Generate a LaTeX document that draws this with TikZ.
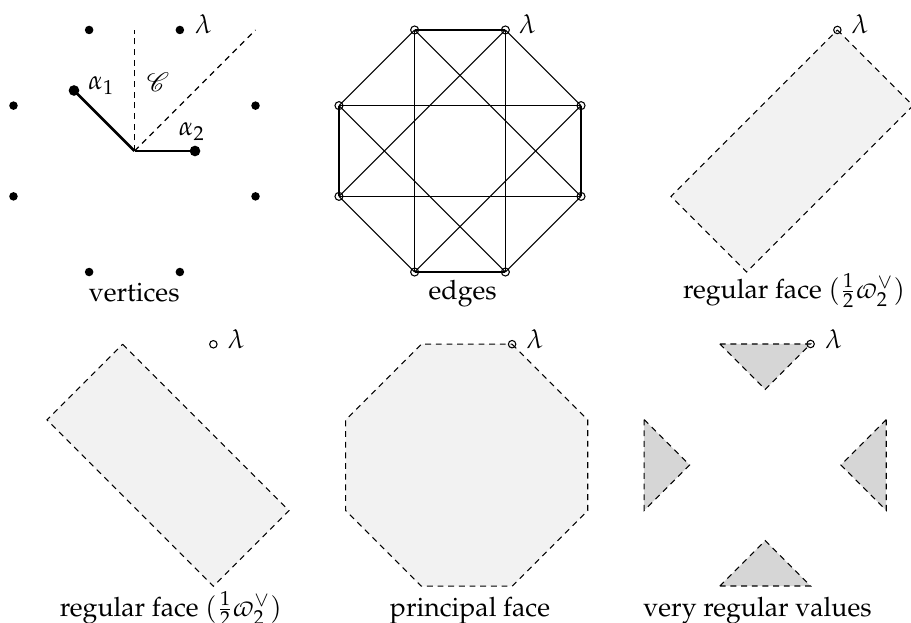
\documentclass[tikz,border=0pt]{standalone}
\usepackage[T1]{fontenc}
\usepackage{mathpazo}
\usepackage{mathrsfs}
\tikzset{
  dot/.style={circle,fill=black,inner sep=0pt,minimum size=3.2pt},
  bigdot/.style={circle,fill=black,inner sep=0pt,minimum size=4pt},
  ring/.style={circle,draw=black,line width=0.4pt,inner sep=0pt,minimum size=3pt},
  sring/.style={circle,draw=black,line width=0.4pt,inner sep=0pt,minimum size=2.8pt},
  dsh/.style={dash pattern=on 2.2pt off 1.8pt,line width=0.4pt},
  face/.style={dsh,fill=black!5},
  vface/.style={dsh,fill=black!16},
  edgeline/.style={line width=0.4pt},
  rootline/.style={line width=1pt},
  lab/.style={anchor=base,inner sep=0pt},
  mlab/.style={inner sep=0pt},
  panel/.style={x=22.69pt,y=22.69pt}
}
\begin{document}
\begin{tikzpicture}[x=0.375pt,y=-0.375pt]
\useasboundingbox (0,0) rectangle (911,623);

% ---------- panel 1: vertices ----------
\begin{scope}[shift={(134.5,151)},panel]
  \coordinate (o1) at (0,0);
  \coordinate (wallA) at (0,2);
  \coordinate (wallB) at (2,2);
  \draw[dsh] (o1) -- (wallA);
  \draw[dsh] (o1) -- (wallB);
  \node[dot] (p1) at (0.75,2) {};
  \node[dot] (p2) at (2,0.75) {};
  \node[dot] (p3) at (2,-0.75) {};
  \node[dot] (p4) at (0.75,-2) {};
  \node[dot] (p5) at (-0.75,-2) {};
  \node[dot] (p6) at (-2,-0.75) {};
  \node[dot] (p7) at (-2,0.75) {};
  \node[dot] (p8) at (-0.75,2) {};
  \node[bigdot] (al1) at (-1,1) {};
  \node[bigdot] (al2) at (1,0) {};
  \draw[rootline] (o1) -- (al1.center);
  \draw[rootline] (o1) -- (al2.center);
\end{scope}
\node[mlab] (lam1) at (203.5,24) {$\lambda$};
\node[mlab] (alab1) at (101.5,85.5) {$\alpha_1$};
\node[mlab] (alab2) at (192,131.5) {$\alpha_2$};
\node[mlab] (cone) at (158,82) {$\mathscr{C}$};
\node[lab] (cap1) at (134.2,302) {vertices};

% ---------- panel 2: edges ----------
\begin{scope}[shift={(460,151)},panel]
  \node[ring] (e1) at (0.75,2) {};
  \node[ring] (e2) at (2,0.75) {};
  \node[ring] (e3) at (2,-0.75) {};
  \node[ring] (e4) at (0.75,-2) {};
  \node[ring] (e5) at (-0.75,-2) {};
  \node[ring] (e6) at (-2,-0.75) {};
  \node[ring] (e7) at (-2,0.75) {};
  \node[ring] (e8) at (-0.75,2) {};
  \draw[edgeline] (e1.center) -- (e2.center);
  \draw[edgeline] (e2.center) -- (e3.center);
  \draw[edgeline] (e3.center) -- (e4.center);
  \draw[edgeline] (e4.center) -- (e5.center);
  \draw[edgeline] (e5.center) -- (e6.center);
  \draw[edgeline] (e6.center) -- (e7.center);
  \draw[edgeline] (e7.center) -- (e8.center);
  \draw[edgeline] (e8.center) -- (e1.center);
  \draw[edgeline] (e7.center) -- (e2.center);
  \draw[edgeline] (e6.center) -- (e3.center);
  \draw[edgeline] (e8.center) -- (e5.center);
  \draw[edgeline] (e1.center) -- (e4.center);
  \draw[edgeline] (e8.center) -- (e3.center);
  \draw[edgeline] (e1.center) -- (e6.center);
  \draw[edgeline] (e7.center) -- (e4.center);
  \draw[edgeline] (e2.center) -- (e5.center);
\end{scope}
\node[mlab] (lam2) at (527.5,24) {$\lambda$};
\node[lab] (cap2) at (462.7,299.5) {edges};

% ---------- panel 3: regular face ----------
\begin{scope}[shift={(792,151)},panel]
  \coordinate (r1) at (0.75,2);
  \coordinate (r2) at (2,0.75);
  \coordinate (r3) at (-0.75,-2);
  \coordinate (r4) at (-2,-0.75);
  \filldraw[face] (r1) -- (r2) -- (r3) -- (r4) -- cycle;
  \node[sring] (l3) at (r1) {};
\end{scope}
\node[mlab] (lam3) at (860,24) {$\lambda$};
\node[lab] (cap3) at (794,298.3) {regular face $(\frac{1}{2}\varpi_2^\vee)$};

% ---------- panel 4: regular face ----------
\begin{scope}[shift={(168,465.3)},panel]
  \coordinate (q1) at (-0.75,2);
  \coordinate (q2) at (2,-0.75);
  \coordinate (q3) at (0.75,-2);
  \coordinate (q4) at (-2,0.75);
  \filldraw[face] (q1) -- (q2) -- (q3) -- (q4) -- cycle;
  \node[sring] (l4) at (0.75,2) {};
\end{scope}
\node[mlab] (lam4) at (236.3,338.8) {$\lambda$};
\node[lab] (cap4) at (170.8,616) {regular face $(\frac{1}{2}\varpi_2^\vee)$};

% ---------- panel 5: principal face ----------
\begin{scope}[shift={(466.7,465.2)},panel]
  \coordinate (f1) at (0.75,2);
  \coordinate (f2) at (2,0.75);
  \coordinate (f3) at (2,-0.75);
  \coordinate (f4) at (0.75,-2);
  \coordinate (f5) at (-0.75,-2);
  \coordinate (f6) at (-2,-0.75);
  \coordinate (f7) at (-2,0.75);
  \coordinate (f8) at (-0.75,2);
  \filldraw[face] (f1) -- (f2) -- (f3) -- (f4) -- (f5) -- (f6) -- (f7) -- (f8) -- cycle;
  \node[sring] (l5) at (f1) {};
\end{scope}
\node[mlab] (lam5) at (535,339) {$\lambda$};
\node[lab] (cap5) at (470,616.7) {principal face};

% ---------- panel 6: very regular values ----------
\begin{scope}[shift={(765.2,465)},panel]
  \coordinate (t1) at (-0.75,2);
  \coordinate (t2) at (0.75,2);
  \coordinate (t3) at (0,1.25);
  \coordinate (t4) at (-2,0.75);
  \coordinate (t5) at (-2,-0.75);
  \coordinate (t6) at (-1.25,0);
  \coordinate (t7) at (2,0.75);
  \coordinate (t8) at (2,-0.75);
  \coordinate (t9) at (1.25,0);
  \coordinate (t10) at (-0.75,-2);
  \coordinate (t11) at (0.75,-2);
  \coordinate (t12) at (0,-1.25);
  \filldraw[vface] (t1) -- (t2) -- (t3) -- cycle;
  \filldraw[vface] (t4) -- (t5) -- (t6) -- cycle;
  \filldraw[vface] (t7) -- (t8) -- (t9) -- cycle;
  \filldraw[vface] (t10) -- (t11) -- (t12) -- cycle;
  \node[sring] (l6) at (t2) {};
\end{scope}
\node[mlab] (lam6) at (833.7,339) {$\lambda$};
\node[lab] (cap6) at (757.5,616.7) {very regular values};
\end{tikzpicture}
\end{document}
